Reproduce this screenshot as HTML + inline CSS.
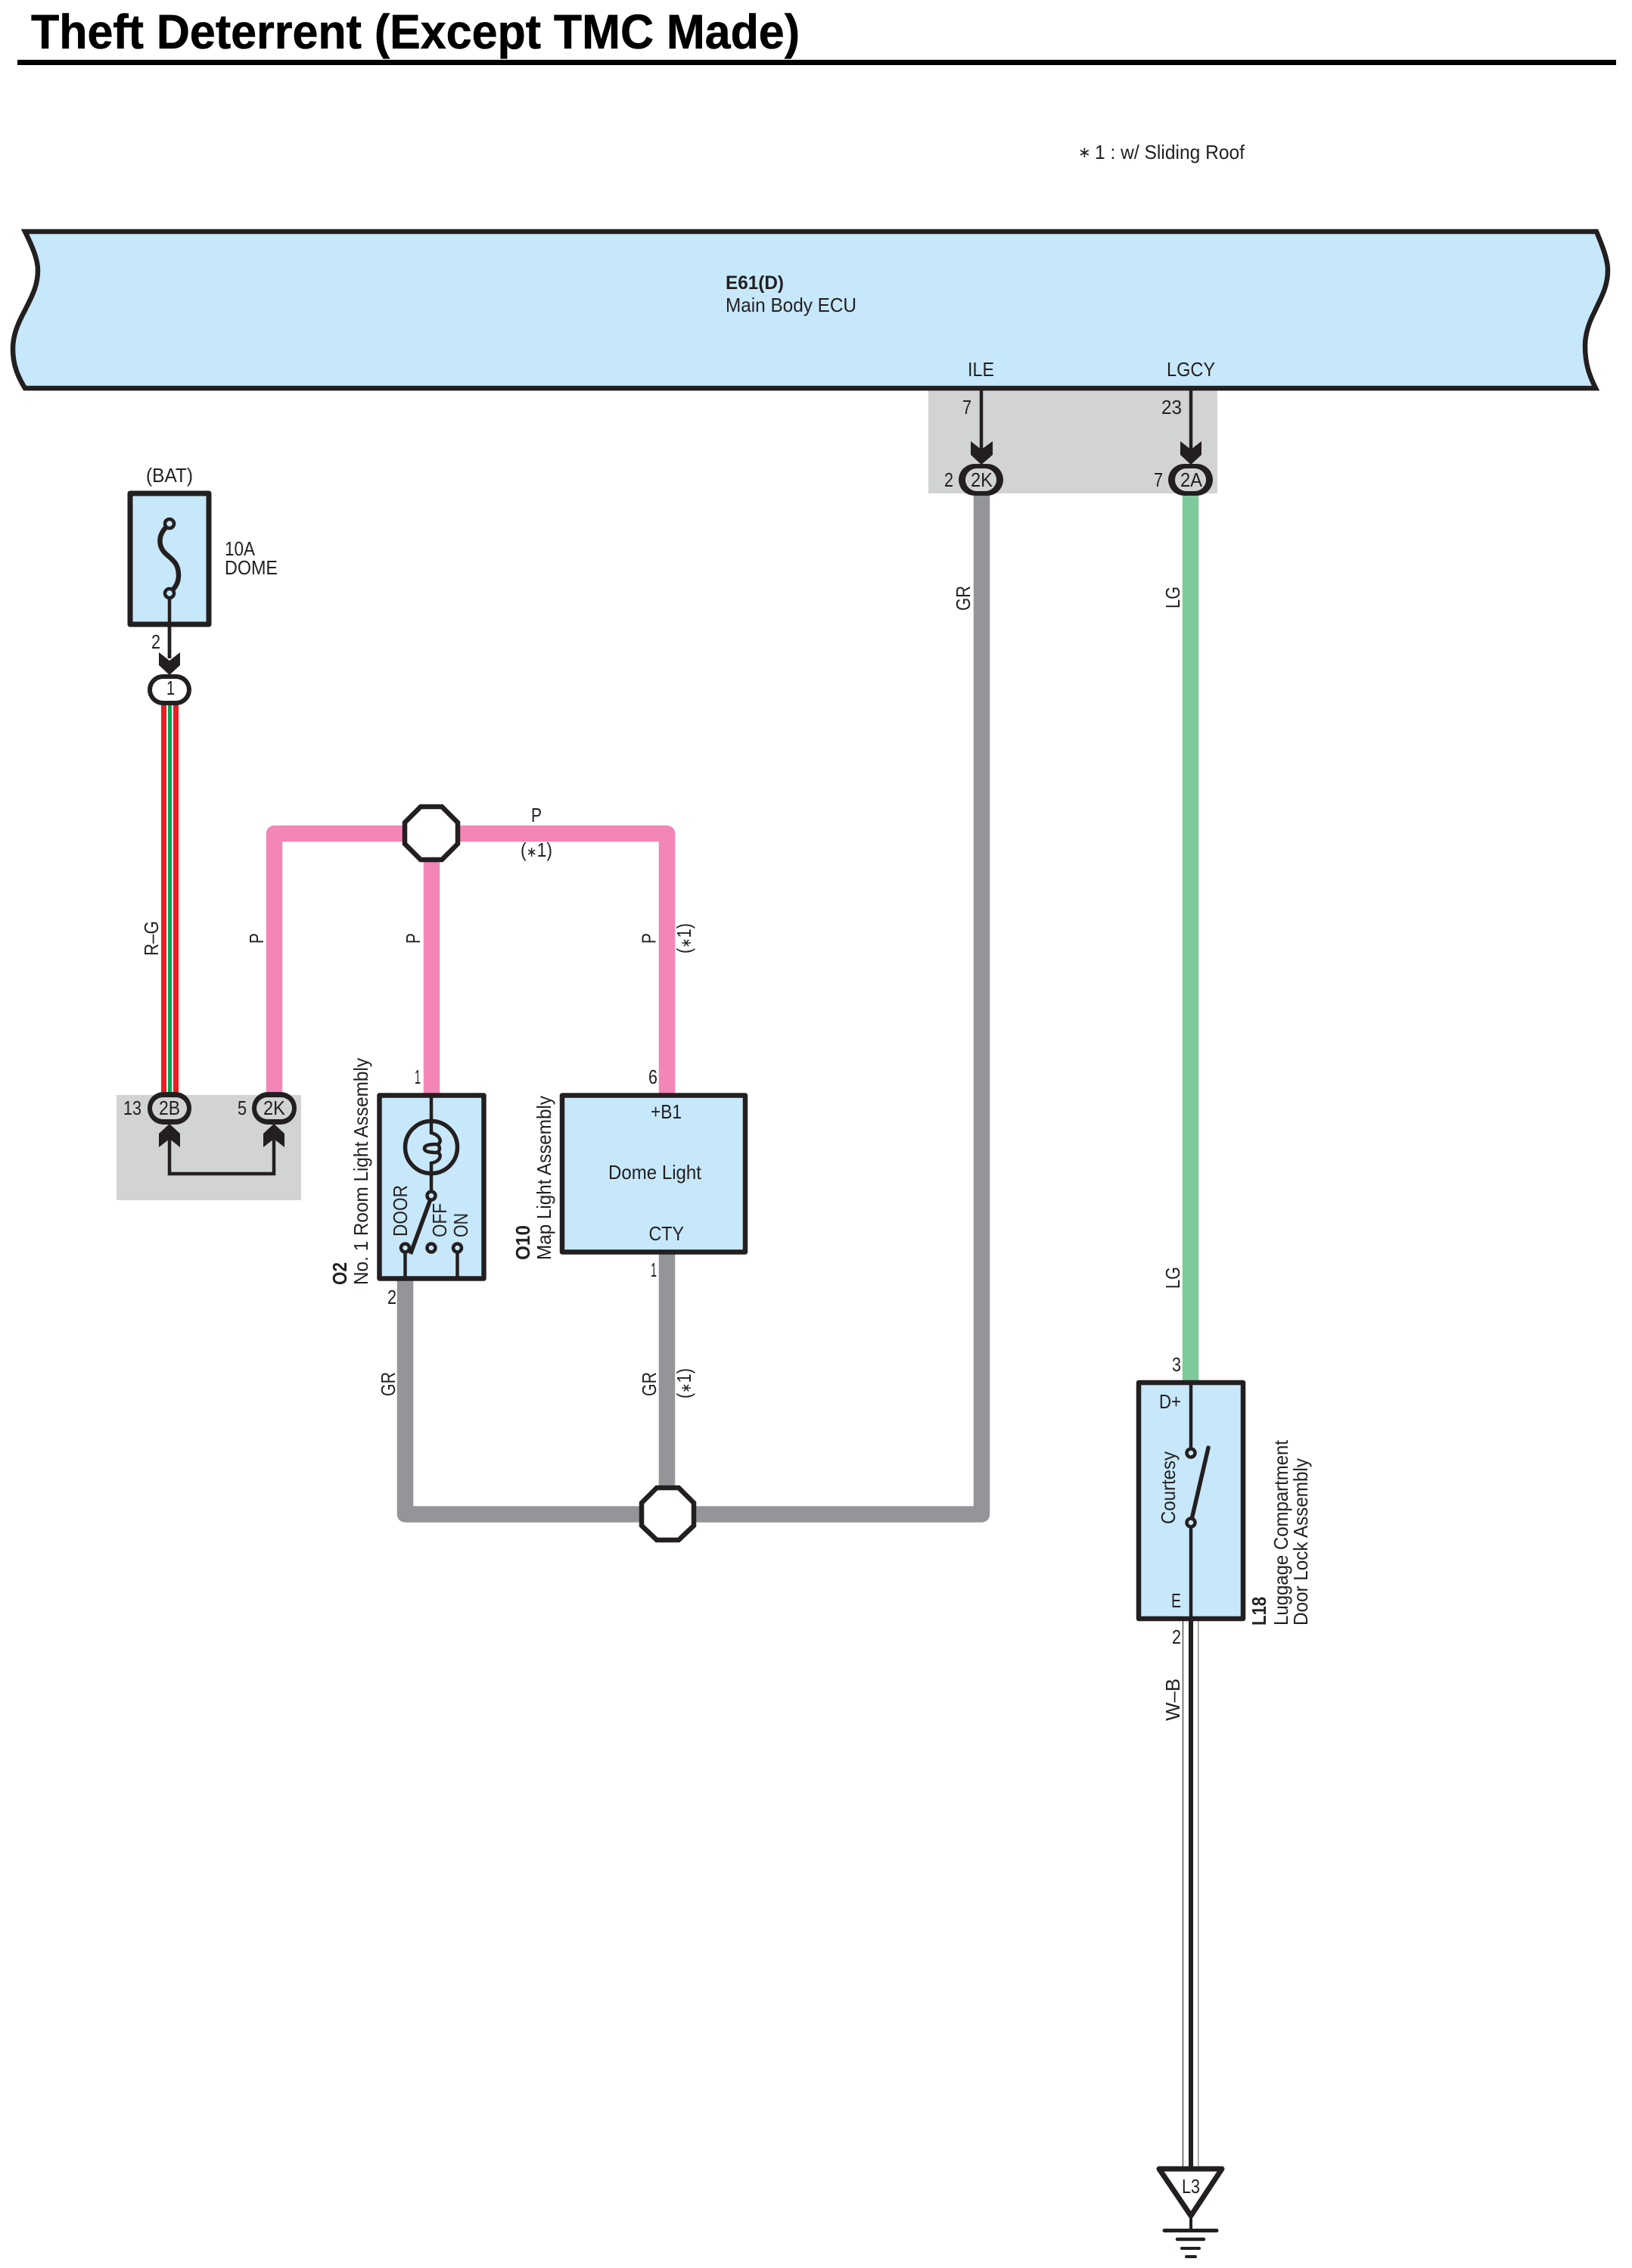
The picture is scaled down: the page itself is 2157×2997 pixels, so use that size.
<!DOCTYPE html>
<html>
<head>
<meta charset="utf-8">
<title>Theft Deterrent (Except TMC Made)</title>
<style>
html,body{margin:0;padding:0;background:#fff}
svg{display:block}
text{font-family:"Liberation Sans",Arial,sans-serif;fill:#231f20;font-size:26px}
</style>
</head>
<body>
<svg width="2157" height="2997" viewBox="0 0 2157 2997" xmlns="http://www.w3.org/2000/svg">
<rect width="2157" height="2997" fill="#fff"/>

<!-- title -->
<text x="41" y="64" style="font-size:64px;font-weight:bold;fill:#000;stroke:#000;stroke-width:.6" textLength="1016" lengthAdjust="spacingAndGlyphs">Theft Deterrent (Except TMC Made)</text>
<rect x="23" y="79" width="2113" height="7" fill="#000"/>

<text x="1425" y="208" style="font-size:20px">∗</text>
<text x="1447" y="210" textLength="198" lengthAdjust="spacingAndGlyphs">1 : w/ Sliding Roof</text>

<!-- grey boxes -->
<rect x="1227" y="514" width="382" height="138" fill="#d1d3d4"/>
<rect x="154" y="1447" width="244" height="139" fill="#d1d3d4"/>

<!-- ECU -->
<path d="M33 306 H2110 C2120 330 2125 345 2125 357 C2125 380 2115 395 2108 411 C2098 430 2095 445 2095 457 C2095 480 2100 495 2109 513 H33 C22 495 17 480 17 461 C17 445 22 430 33 410 C40 395 50 380 50 357 C50 345 45 330 33 306 Z" fill="#c7e8fa" stroke="#231f20" stroke-width="6.5" stroke-linejoin="miter"/>
<text x="959" y="382" style="font-size:25px;font-weight:bold" textLength="77" lengthAdjust="spacingAndGlyphs">E61(D)</text>
<text x="959" y="412" style="font-size:26px" textLength="173" lengthAdjust="spacingAndGlyphs">Main Body ECU</text>
<text x="1279" y="497" textLength="35" lengthAdjust="spacingAndGlyphs">ILE</text>
<text x="1542" y="497" textLength="64" lengthAdjust="spacingAndGlyphs">LGCY</text>

<!-- wires -->
<g fill="none" stroke-linejoin="round">
  <path d="M362.5 1446 V1101.5 H881.5 V1446" stroke="#f385b7" stroke-width="21.5"/>
  <path d="M570.5 1101 V1446" stroke="#f385b7" stroke-width="21.5"/>
  <path d="M535.5 1692 V2001 H1297.5 V652" stroke="#939598" stroke-width="21.5"/>
  <path d="M881.5 1656 V1966" stroke="#939598" stroke-width="21.5"/>
  <path d="M1573.5 652 V1826" stroke="#7fca9d" stroke-width="21.5"/>
</g>

<!-- R-G wire -->
<rect x="213" y="930" width="23" height="516" fill="#ed1c24"/>
<rect x="220" y="930" width="9" height="516" fill="#fff"/>
<rect x="222" y="930" width="5" height="516" fill="#00a651"/>

<!-- W-B wire -->
<rect x="1563" y="2140" width="21" height="725" fill="#fff"/>
<rect x="1563" y="2140" width="1" height="725" fill="#231f20"/>
<rect x="1583" y="2140" width="1.5" height="725" fill="#939598"/>
<rect x="1571" y="2140" width="6" height="725" fill="#231f20"/>

<!-- connector arrows -->
<g stroke="#231f20" stroke-width="4.5" fill="none">
  <path d="M1297 516 V600"/>
  <path d="M1574 516 V600"/>
  <path d="M224 785 V870"/>
  <path d="M224 1505 V1551 H362 V1505"/>
</g>
<g fill="#231f20">
  <path d="M1283 583 L1297 594 L1312 583 V601 L1297 614 L1283 601 Z"/>
  <path d="M1560 583 L1574 594 L1588 583 V601 L1574 614 L1560 601 Z"/>
  <path d="M210 862 L224 873 L238 862 V879 L224 892 L210 879 Z"/>
  <path d="M210 1516 L224 1505 L238 1516 V1498 L224 1485 L210 1498 Z"/>
  <path d="M348 1516 L362 1505 L376 1516 V1498 L362 1485 L348 1498 Z"/>
</g>

<!-- connector ovals -->
<g fill="#231f20">
  <rect x="1267" y="613" width="59" height="42" rx="21"/>
  <rect x="1544" y="613" width="59" height="42" rx="21"/>
  <rect x="195" y="891" width="58" height="41" rx="20.5"/>
  <rect x="195" y="1443" width="58" height="43" rx="21"/>
  <rect x="333" y="1443" width="59" height="43" rx="21"/>
</g>
<rect x="1276" y="619" width="41" height="30" rx="15" fill="#d1d3d4"/>
<rect x="1553" y="619" width="41" height="30" rx="15" fill="#d1d3d4"/>
<rect x="201" y="897" width="46" height="29" rx="14.5" fill="#fff"/>
<rect x="201" y="1450" width="46" height="29" rx="14.5" fill="#d1d3d4"/>
<rect x="339" y="1450" width="47" height="29" rx="14.5" fill="#d1d3d4"/>
<text x="1283" y="643" textLength="29" lengthAdjust="spacingAndGlyphs">2K</text>
<text x="1560" y="643" textLength="29" lengthAdjust="spacingAndGlyphs">2A</text>
<text x="220" y="918" textLength="11" lengthAdjust="spacingAndGlyphs">1</text>
<text x="210" y="1473" textLength="28" lengthAdjust="spacingAndGlyphs">2B</text>
<text x="348" y="1473" textLength="29" lengthAdjust="spacingAndGlyphs">2K</text>

<text x="1272" y="547" textLength="12" lengthAdjust="spacingAndGlyphs">7</text>
<text x="1535" y="547" textLength="27" lengthAdjust="spacingAndGlyphs">23</text>
<text x="1248" y="643" textLength="12" lengthAdjust="spacingAndGlyphs">2</text>
<text x="1525" y="643" textLength="12" lengthAdjust="spacingAndGlyphs">7</text>
<text x="163" y="1473" textLength="24" lengthAdjust="spacingAndGlyphs">13</text>
<text x="314" y="1473" textLength="12" lengthAdjust="spacingAndGlyphs">5</text>

<!-- fuse -->
<rect x="172" y="652" width="104" height="173" fill="#c7e8fa" stroke="#231f20" stroke-width="7" stroke-linejoin="round"/>
<path d="M224 692 C213 702 210 710 212 720 C216 737 236 736 236 760 C236 772 230 778 224 784" fill="none" stroke="#231f20" stroke-width="6.5"/>
<circle cx="224" cy="692" r="6" fill="#c7e8fa" stroke="#231f20" stroke-width="4.5"/>
<circle cx="224" cy="784" r="6" fill="#c7e8fa" stroke="#231f20" stroke-width="4.5"/>
<path d="M224 790 V870" stroke="#231f20" stroke-width="4.5"/>
<text x="193" y="637" textLength="62" lengthAdjust="spacingAndGlyphs">(BAT)</text>
<text x="297" y="734" textLength="40" lengthAdjust="spacingAndGlyphs">10A</text>
<text x="297" y="759" textLength="70" lengthAdjust="spacingAndGlyphs">DOME</text>
<text x="200" y="857" textLength="12" lengthAdjust="spacingAndGlyphs">2</text>

<!-- junction octagons -->
<polygon points="556,1066 584,1066 605,1087 605,1115 584,1136 556,1136 535,1115 535,1087" fill="#fff" stroke="#231f20" stroke-width="6.5"/>
<polygon points="868,1966 897,1966 917,1986 917,2016 897,2035 868,2035 848,2016 848,1986" fill="#fff" stroke="#231f20" stroke-width="6.5"/>

<text x="702" y="1086" textLength="14" lengthAdjust="spacingAndGlyphs">P</text>
<text x="688" y="1132" textLength="42" lengthAdjust="spacingAndGlyphs">(<tspan style="font-size:19px">∗</tspan>1)</text>

<!-- O2 box -->
<rect x="501.5" y="1447.5" width="138" height="242" fill="#c7e8fa" stroke="#231f20" stroke-width="6.5" stroke-linejoin="round"/>
<circle cx="570" cy="1516" r="34.5" fill="none" stroke="#231f20" stroke-width="5.5"/>
<g fill="none" stroke="#231f20" stroke-width="4.5">
  <path d="M570 1450 V1497 C582 1500 585 1510 578 1512 C568 1512 561 1513 561 1517.5 C561 1522 568 1523 578 1523 C585 1525 582 1535 570 1537 V1574"/>
  <path d="M578 1512 C582 1515 582 1520 578 1523"/>
  <path d="M535.5 1656 V1690"/>
  <path d="M604.5 1656 V1690"/>
</g>
<path d="M570 1582 L542.5 1657" stroke="#231f20" stroke-width="5.5" fill="none"/>
<g fill="#c7e8fa" stroke="#231f20" stroke-width="4.5">
  <circle cx="570" cy="1580" r="5.5"/>
  <circle cx="535.5" cy="1649" r="5.5"/>
  <circle cx="570" cy="1649" r="5.5"/>
  <circle cx="604.5" cy="1649" r="5.5"/>
</g>

<!-- O10 box -->
<rect x="743" y="1447.5" width="242" height="207" fill="#c7e8fa" stroke="#231f20" stroke-width="6.5" stroke-linejoin="round"/>
<text x="860" y="1478" textLength="41" lengthAdjust="spacingAndGlyphs">+B1</text>
<text x="804" y="1558" textLength="123" lengthAdjust="spacingAndGlyphs">Dome Light</text>
<text x="857.5" y="1639" textLength="46.5" lengthAdjust="spacingAndGlyphs">CTY</text>

<text x="548" y="1432" textLength="8" lengthAdjust="spacingAndGlyphs">1</text>
<text x="857" y="1432" textLength="12" lengthAdjust="spacingAndGlyphs">6</text>
<text x="512" y="1723" textLength="12" lengthAdjust="spacingAndGlyphs">2</text>
<text x="860" y="1687" textLength="8" lengthAdjust="spacingAndGlyphs">1</text>

<!-- L18 box -->
<rect x="1505" y="1827" width="138" height="312" fill="#c7e8fa" stroke="#231f20" stroke-width="6.5" stroke-linejoin="round"/>
<g fill="none" stroke="#231f20" stroke-width="4.5">
  <path d="M1574 1828 V1914"/>
  <path d="M1574 2018 V2142"/>
</g>
<path d="M1574 2012 L1597 1913" stroke="#231f20" stroke-width="5.5" stroke-linecap="round" fill="none"/>
<g fill="#c7e8fa" stroke="#231f20" stroke-width="4.5">
  <circle cx="1574" cy="1920" r="5.5"/>
  <circle cx="1574" cy="2012" r="5.5"/>
</g>
<text x="1532" y="1861" textLength="29" lengthAdjust="spacingAndGlyphs">D+</text>
<text x="1548" y="2124" textLength="13" lengthAdjust="spacingAndGlyphs">E</text>
<text x="1549" y="1812" textLength="12" lengthAdjust="spacingAndGlyphs">3</text>
<text x="1549" y="2172" textLength="12" lengthAdjust="spacingAndGlyphs">2</text>

<!-- ground -->
<path d="M1532 2866 H1615 L1574 2928 Z" fill="#fff" stroke="#231f20" stroke-width="7" stroke-linejoin="round"/>
<text x="1562" y="2898" textLength="24" lengthAdjust="spacingAndGlyphs">L3</text>
<g stroke="#231f20" stroke-linecap="round" fill="none">
  <path d="M1574 2930 V2947" stroke-width="4"/>
  <path d="M1539 2947.5 H1608" stroke-width="5"/>
  <path d="M1556 2959 H1591" stroke-width="4.5"/>
  <path d="M1562 2971 H1585" stroke-width="4"/>
  <path d="M1568 2982 H1580" stroke-width="4"/>
</g>

<!-- rotated labels -->
<g>
  <text transform="translate(209 1263) rotate(-90)" textLength="46" lengthAdjust="spacingAndGlyphs">R–G</text>
  <text transform="translate(348 1247) rotate(-90)" textLength="14" lengthAdjust="spacingAndGlyphs">P</text>
  <text transform="translate(555 1247) rotate(-90)" textLength="14" lengthAdjust="spacingAndGlyphs">P</text>
  <text transform="translate(866.5 1247) rotate(-90)" textLength="14" lengthAdjust="spacingAndGlyphs">P</text>
  <text transform="translate(913 1260) rotate(-90)" textLength="40" lengthAdjust="spacingAndGlyphs">(<tspan style="font-size:19px">∗</tspan>1)</text>
  <text transform="translate(1282 807) rotate(-90)" textLength="33" lengthAdjust="spacingAndGlyphs">GR</text>
  <text transform="translate(1559 804) rotate(-90)" textLength="29" lengthAdjust="spacingAndGlyphs">LG</text>
  <text transform="translate(1559 1703) rotate(-90)" textLength="29" lengthAdjust="spacingAndGlyphs">LG</text>
  <text transform="translate(522 1845) rotate(-90)" textLength="32" lengthAdjust="spacingAndGlyphs">GR</text>
  <text transform="translate(867 1845) rotate(-90)" textLength="32" lengthAdjust="spacingAndGlyphs">GR</text>
  <text transform="translate(913 1848) rotate(-90)" textLength="40" lengthAdjust="spacingAndGlyphs">(<tspan style="font-size:19px">∗</tspan>1)</text>
  <text transform="translate(1559 2274) rotate(-90)" textLength="56" lengthAdjust="spacingAndGlyphs">W–B</text>

  <text transform="translate(458 1698) rotate(-90)" style="font-weight:bold" textLength="30" lengthAdjust="spacingAndGlyphs">O2</text>
  <text transform="translate(486 1698) rotate(-90)" textLength="300" lengthAdjust="spacingAndGlyphs">No. 1 Room Light Assembly</text>
  <text transform="translate(700 1665) rotate(-90)" style="font-weight:bold" textLength="46" lengthAdjust="spacingAndGlyphs">O10</text>
  <text transform="translate(728 1665) rotate(-90)" textLength="217" lengthAdjust="spacingAndGlyphs">Map Light Assembly</text>
  <text transform="translate(538 1634) rotate(-90)" textLength="68" lengthAdjust="spacingAndGlyphs">DOOR</text>
  <text transform="translate(590 1635) rotate(-90)" textLength="45" lengthAdjust="spacingAndGlyphs">OFF</text>
  <text transform="translate(618 1635) rotate(-90)" textLength="32" lengthAdjust="spacingAndGlyphs">ON</text>
  <text transform="translate(1553 2014) rotate(-90)" textLength="96" lengthAdjust="spacingAndGlyphs">Courtesy</text>
  <text transform="translate(1673 2148) rotate(-90)" style="font-weight:bold" textLength="38" lengthAdjust="spacingAndGlyphs">L18</text>
  <text transform="translate(1702 2148) rotate(-90)" textLength="245" lengthAdjust="spacingAndGlyphs">Luggage Compartment</text>
  <text transform="translate(1728 2148) rotate(-90)" textLength="221" lengthAdjust="spacingAndGlyphs">Door Lock Assembly</text>
</g>
</svg>
</body>
</html>
